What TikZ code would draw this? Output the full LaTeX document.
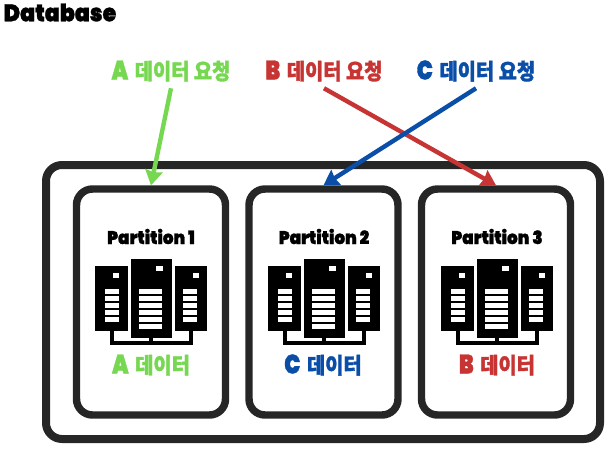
\documentclass[tikz,border=0pt]{standalone}
\usepackage{fontspec}
\usetikzlibrary{arrows.meta}
\newfontfamily\latfont[FakeStretch=.92,FakeBold=1.2]{Poppins Black}
\newfontfamily\reqfont[FakeStretch=.8,FakeBold=1.2]{Poppins Black}
\newfontfamily\kofont[FakeStretch=.9,FakeBold=1.5]{Noto Sans CJK KR Black}
\definecolor{boxgray}{HTML}{262626}
\definecolor{reqgreen}{HTML}{76D750}
\definecolor{reqred}{HTML}{C63533}
\definecolor{reqblue}{HTML}{0B4EA8}
\tikzset{
    outerbox/.style={draw=boxgray, line width=6pt, rounded corners=12pt},
    partbox/.style={draw=boxgray, line width=5.6pt, rounded corners=12pt, minimum width=111.75pt, minimum height=169.5pt, inner sep=0pt, fill=white},
    req/.style={inner sep=0pt, minimum height=25.5pt, font=\fontsize{16.5}{17}\selectfont},
    parttitle/.style={inner sep=0pt, font=\latfont\fontsize{13.7}{14}\selectfont},
    reqarrow/.style={->, line width=3.3pt},
}
\newcommand{\lat}[1]{{\reqfont\fontsize{20}{20}\selectfont #1}}
\newcommand{\ko}[1]{{\kofont #1}}
\begin{document}
\begin{tikzpicture}[>={Stealth[length=11pt,width=13pt,inset=1pt]}, x=.75pt, y=-.75pt]
        \useasboundingbox (0,0) rectangle (608,450);
        \node [inner sep=0pt, anchor=west, font=\latfont\fontsize{18}{18}\selectfont] (dbtitle) at (3.5,12.5){Database};
        \draw [outerbox] (46,165) rectangle (600,439);
        % partitions
        \node [partbox] (part1) at (151,302){};
        \node [partbox] (part2) at (323.5,302){};
        \node [partbox] (part3) at (496,302){};
        \node [parttitle] (title1) at (151,236.5){Partition 1};
        \node [parttitle] (title2) at (324,236.5){Partition 2};
        \node [parttitle] (title3) at (497,236.5){Partition 3};
        % servers
        \foreach \s in {0,173,346}
        {
            \begin{scope}[xshift=\s*.75pt]
            \fill (95,266) rectangle (128,331);
            \fill (130.5,259) rectangle (172,338);
            \fill (174.5,266) rectangle (206.5,331);
            \draw [line width=3.5pt] (112,331)--(112,343)--(191,343)--(191,331);
            \draw [line width=3.5pt] (151,338)--(151,343);
            \fill [white] (113,273) rectangle (119,278);
            \fill [white] (193,273) rectangle (199,278);
            \fill [white] (155.5,266) rectangle (162.5,271);
            \foreach \y in {0,...,4}
            {
                \fill [white] (105,289+7*\y) rectangle (119,293.5+7*\y);
                \fill [white] (183,289+7*\y) rectangle (197,293.5+7*\y);
            }
            \foreach \y in {0,...,5}
            {
                \fill [white] (139,289+7*\y) rectangle (162,293.5+7*\y);
            }
            \end{scope}
        }
        % labels
        \node [req, text=reqgreen] (reqA) at (171,71){\lat{A} \ko{데이터 요청}};
        \node [req, text=reqred] (reqB) at (324,71){\lat{B} \ko{데이터 요청}};
        \node [req, text=reqblue] (reqC) at (476,71){\lat{C} \ko{데이터 요청}};
        \node [req, text=reqgreen] (dataA) at (151,365){\lat{A} \ko{데이터}};
        \node [req, text=reqblue] (dataC) at (323,365){\lat{C} \ko{데이터}};
        \node [req, text=reqred] (dataB) at (497,365){\lat{B} \ko{데이터}};
        % arrows
        \draw [reqarrow, draw=reqgreen, fill=reqgreen] (reqA.south)--(part1.north);
        \draw [reqarrow, draw=reqred, fill=reqred] (reqB.south)--(part3.north);
        \draw [reqarrow, draw=reqblue, fill=reqblue] (reqC.south)--(part2.north);
\end{tikzpicture}
\end{document}
